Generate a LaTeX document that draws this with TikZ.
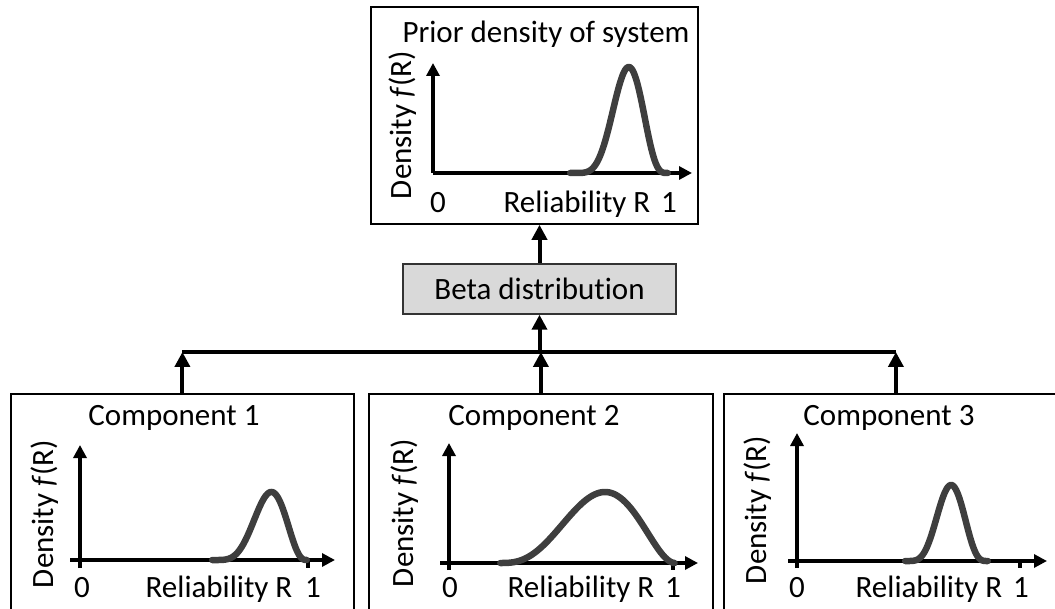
\documentclass[tikz,border=0pt]{standalone}
\usepackage{fontspec}
\setmainfont{Carlito}[Ligatures=NoCommon]
\usetikzlibrary{arrows.meta}
\definecolor{curvec}{RGB}{62,62,62}
\definecolor{betafill}{RGB}{217,217,217}
\tikzset{
 panel/.style={draw=black, line width=1.8pt, anchor=north west, inner sep=0pt},
 conn/.style={line width=4pt, -{Triangle[width=15pt,length=15pt]}},
 busline/.style={line width=3.5pt},
 axisarrow/.style={line width=3.2pt, -{Triangle[width=13pt,length=13pt]}},
 axisline/.style={line width=3.2pt},
 curve/.style={draw=curvec, line width=6.5pt, line join=round, line cap=round},
 lbl/.style={font=\fontsize{31}{36}\selectfont, inner sep=0pt, anchor=base},
}
% a b base h p q
\newcommand{\bcurve}[6]{%
  \pgfmathsetmacro{\bmode}{#5/(#5+#6)}%
  \draw[curve] plot[domain=0.002:0.998,samples=90,smooth]
    ({#1+(#2-#1)*\x},{#3-#4*((\x/\bmode)^#5)*(((1-\x)/(1-\bmode))^#6)});
}
\begin{document}
\begin{tikzpicture}[x=1pt,y=-1pt]
\useasboundingbox (0,0) rectangle (1055,609);
\clip (0,0) rectangle (1055,609);

% ---------- top panel ----------
\node[panel, minimum width=327pt, minimum height=217pt] (top) at (370,6) {};
\node[lbl] (toptitle) at (546,43) {Prior density of system};
\draw[axisarrow] (433,173) -- (433,63);
\draw[axisarrow] (433,173) -- (692,173);
\bcurve{570}{668}{173}{106}{6}{4}
\node[lbl] (top0) at (438,213) {0};
\node[lbl] (topR) at (577,213) {Reliability R};
\node[lbl] (top1) at (669,213) {1};
\node[lbl, rotate=90] (topD) at (411,125) {Density \textit{f}(R)};

% ---------- beta box ----------
\node[draw=black!80, line width=1.5pt, fill=betafill, minimum width=273pt,
      minimum height=50pt, inner sep=0pt, font=\fontsize{31}{36}\selectfont]
      (beta) at (539.5,289) {Beta distribution};

% ---------- component panels ----------
\node[panel, minimum width=343pt, minimum height=240pt] (c1) at (10,393) {};
\node[panel, minimum width=344pt, minimum height=240pt] (c2) at (368,393) {};
\node[panel, minimum width=344pt, minimum height=240pt] (c3) at (723,393) {};

% component 1
\node[lbl] (c1t) at (174,426) {Component 1};
\draw[axisarrow] (80,568) -- (80,445);
\draw[axisarrow] (70,560) -- (335,560);
\draw[axisline] (308,560) -- (308,568);
\bcurve{212}{307}{560}{68}{5}{3}
\node[lbl] (c10) at (82,597) {0};
\node[lbl] (c1R) at (219,597) {Reliability R};
\node[lbl] (c11) at (313,597) {1};
\node[lbl, rotate=90] (c1D) at (53,514) {Density \textit{f}(R)};

% component 2
\node[lbl] (c2t) at (534,426) {Component 2};
\draw[axisarrow] (449,570) -- (449,443);
\draw[axisarrow] (440,563) -- (698,563);
\draw[axisline] (673,563) -- (673,570);
\bcurve{500}{675}{563}{71}{3}{2}
\node[lbl] (c20) at (450,597) {0};
\node[lbl] (c2R) at (581,597) {Reliability R};
\node[lbl] (c21) at (673,597) {1};
\node[lbl, rotate=90] (c2D) at (413,513) {Density \textit{f}(R)};

% component 3
\node[lbl] (c3t) at (889,426) {Component 3};
\draw[axisarrow] (797,568) -- (797,433);
\draw[axisarrow] (788,561) -- (1047,561);
\draw[axisline] (1020,561) -- (1020,568);
\bcurve{905}{988}{561}{76}{5}{4}
\node[lbl] (c30) at (797,597) {0};
\node[lbl] (c3R) at (929,597) {Reliability R};
\node[lbl] (c31) at (1021,597) {1};
\node[lbl, rotate=90] (c3D) at (766,510) {Density \textit{f}(R)};

% ---------- connectors ----------
\coordinate (bus) at (539.5,352);
\draw[busline] (c1.north |- bus) -- (c3.north |- bus);
\draw[conn] (c1.north) -- (c1.north |- bus);
\draw[conn] (c2.north) -- (c2.north |- bus);
\draw[conn] (c3.north) -- (c3.north |- bus);
\draw[conn] (bus) -- (beta.south);
\draw[conn] (beta.north) -- (beta.north |- top.south);
\end{tikzpicture}
\end{document}
